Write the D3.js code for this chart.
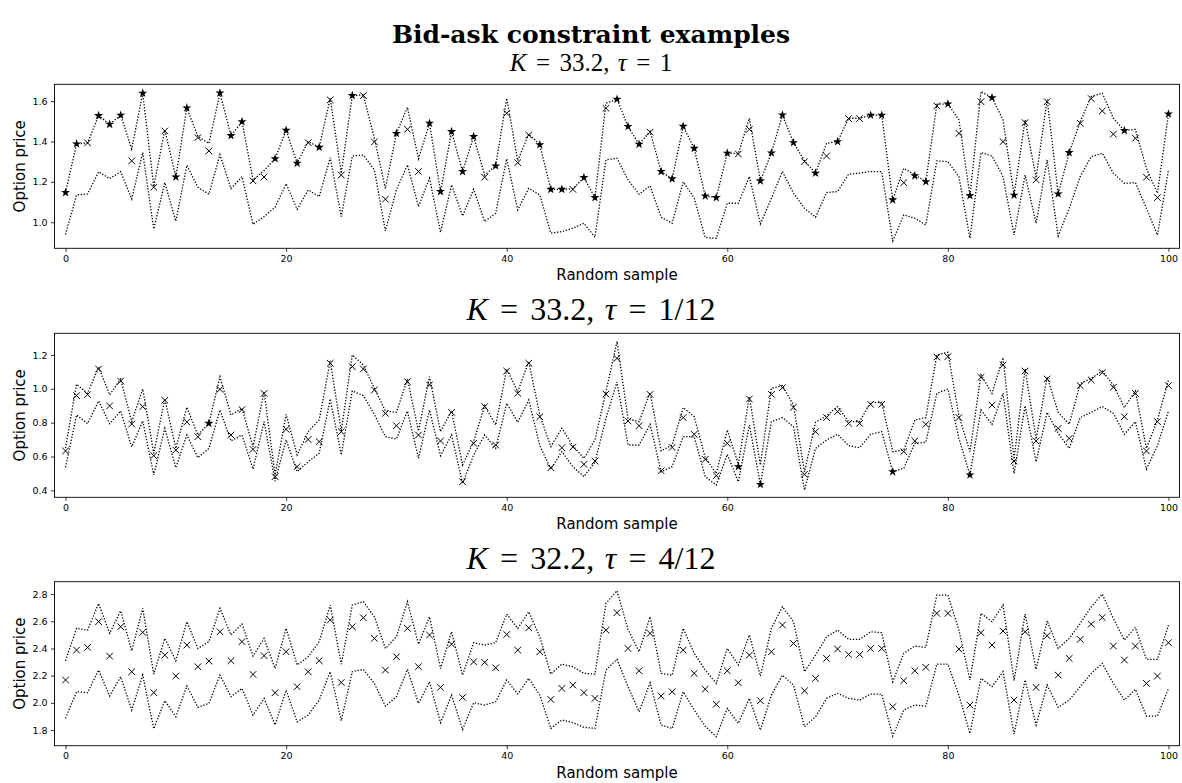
<!DOCTYPE html>
<html><head><meta charset="utf-8">
<script src="https://cdn.jsdelivr.net/npm/d3@7"></script>
<style>body{margin:0;background:#fff}</style>
</head><body><svg id="c" width="1182" height="783"></svg>
<script>
// ---------- data ----------
const samples = d3.range(0, 101);
const xTicks = [0, 20, 40, 60, 80, 100];
const chartTitle = "Bid-ask constraint examples";
const strikeLabels = ["33.2", "33.2", "32.2"];
const tauLabels = ["1", "1/12", "4/12"];
const xLabel = "Random sample";
const yLabel = "Option price";

const ask1 = [1.147,1.388,1.393,1.528,1.485,1.530,1.363,1.639,1.177,1.457,1.224,1.566,1.425,1.390,1.640,1.429,1.498,1.210,1.256,1.315,1.455,1.292,1.400,1.371,1.614,1.243,1.627,1.630,1.416,1.168,1.440,1.569,1.314,1.490,1.152,1.449,1.251,1.424,1.234,1.279,1.614,1.305,1.437,1.384,1.163,1.163,1.165,1.221,1.122,1.589,1.609,1.474,1.386,1.450,1.251,1.215,1.475,1.366,1.130,1.122,1.342,1.340,1.515,1.205,1.343,1.531,1.394,1.304,1.243,1.391,1.399,1.515,1.515,1.530,1.530,1.111,1.267,1.235,1.201,1.584,1.586,1.507,1.132,1.647,1.617,1.507,1.134,1.507,1.220,1.609,1.140,1.345,1.498,1.622,1.639,1.515,1.454,1.460,1.267,1.144,1.536];
const bid1 = [0.940,1.135,1.140,1.250,1.216,1.250,1.115,1.345,0.967,1.196,1.005,1.282,1.173,1.139,1.335,1.167,1.226,0.990,1.028,1.074,1.191,1.064,1.160,1.127,1.320,1.028,1.328,1.333,1.259,0.957,1.160,1.284,1.078,1.218,0.950,1.185,1.031,1.163,1.003,1.045,1.314,1.061,1.168,1.135,0.946,0.954,0.970,0.995,0.926,1.309,1.317,1.210,1.139,1.180,1.025,0.995,1.200,1.119,0.924,0.921,1.094,1.094,1.226,0.992,1.119,1.251,1.144,1.069,1.025,1.147,1.152,1.238,1.243,1.251,1.251,0.908,1.036,1.020,0.987,1.304,1.300,1.226,0.921,1.345,1.328,1.226,0.937,1.234,0.995,1.309,0.932,1.069,1.226,1.325,1.342,1.243,1.193,1.196,1.069,0.937,1.259];
const pred1 = [1.147,1.388,1.393,1.528,1.485,1.530,1.304,1.639,1.173,1.452,1.224,1.566,1.419,1.353,1.640,1.429,1.498,1.205,1.224,1.315,1.455,1.292,1.394,1.371,1.606,1.234,1.627,1.627,1.398,1.114,1.440,1.460,1.251,1.490,1.152,1.449,1.251,1.424,1.223,1.279,1.540,1.295,1.432,1.384,1.163,1.163,1.163,1.221,1.122,1.564,1.609,1.474,1.386,1.446,1.251,1.215,1.475,1.366,1.130,1.122,1.342,1.338,1.460,1.205,1.343,1.531,1.394,1.300,1.243,1.328,1.399,1.513,1.513,1.530,1.530,1.111,1.196,1.230,1.201,1.576,1.586,1.440,1.132,1.597,1.617,1.399,1.134,1.493,1.210,1.597,1.140,1.345,1.490,1.612,1.551,1.436,1.454,1.416,1.223,1.122,1.536];
const marks1 = "ssxsssxsxx" + "ssxxsssxxs" + "ssxsxxsxxx" + "sxxsssssxs" + "xxxsssxssx" + "sssxssssss" + "sxxssssxsx" + "sxxsssxssx" + "sxsxsxsxxx" + "ssxxxxsxxx" + "s";

const ask2 = [0.650,1.027,0.973,1.129,0.964,1.058,0.806,0.999,0.619,0.940,0.648,0.891,0.727,0.796,1.072,0.845,0.885,0.658,0.983,0.491,0.849,0.609,0.747,0.816,1.165,0.751,1.200,1.141,1.003,0.869,0.861,1.058,0.751,1.072,0.747,0.869,0.550,0.688,0.900,0.786,1.117,0.983,1.161,0.845,0.658,0.767,0.664,0.589,0.698,0.983,1.279,0.822,0.806,0.977,0.633,0.668,0.889,0.835,0.593,0.500,0.757,0.554,0.954,0.550,1.003,1.019,0.904,0.510,0.802,0.841,0.895,0.806,0.806,0.920,0.920,0.629,0.638,0.816,0.830,1.200,1.216,0.841,0.629,1.082,0.973,1.184,0.585,1.117,0.703,1.072,0.861,0.790,1.031,1.062,1.105,1.023,0.889,0.987,0.648,0.816,1.052];
const bid2 = [0.536,0.845,0.794,0.928,0.794,0.869,0.656,0.810,0.491,0.766,0.534,0.727,0.593,0.648,0.875,0.692,0.727,0.526,0.806,0.455,0.698,0.510,0.569,0.619,0.940,0.609,0.987,0.960,0.849,0.717,0.703,0.869,0.589,0.875,0.605,0.727,0.441,0.609,0.727,0.648,0.914,0.802,0.934,0.664,0.526,0.629,0.540,0.481,0.566,0.826,1.040,0.668,0.668,0.790,0.510,0.540,0.717,0.717,0.481,0.432,0.613,0.451,0.786,0.435,0.806,0.830,0.776,0.402,0.648,0.698,0.731,0.664,0.652,0.731,0.747,0.510,0.530,0.678,0.684,0.973,0.999,0.707,0.491,0.875,0.790,0.973,0.500,0.900,0.569,0.861,0.737,0.648,0.830,0.861,0.895,0.855,0.731,0.806,0.526,0.664,0.869];
const pred2 = [0.633,0.960,0.966,1.117,0.899,1.046,0.792,0.895,0.605,0.932,0.638,0.804,0.717,0.796,0.997,0.727,0.877,0.642,0.973,0.481,0.761,0.540,0.701,0.688,1.151,0.747,1.131,1.117,0.993,0.855,0.782,1.042,0.727,1.023,0.692,0.861,0.451,0.678,0.895,0.668,1.105,0.973,1.151,0.835,0.534,0.652,0.656,0.554,0.573,0.969,1.180,0.810,0.782,0.967,0.516,0.654,0.830,0.731,0.583,0.487,0.678,0.540,0.940,0.435,0.967,1.007,0.891,0.495,0.747,0.830,0.865,0.796,0.796,0.908,0.908,0.510,0.629,0.692,0.790,1.188,1.190,0.830,0.491,1.068,0.904,1.141,0.573,1.105,0.692,1.058,0.766,0.707,1.019,1.052,1.096,1.009,0.835,0.973,0.633,0.806,1.019];
const marks2 = "xxxxxxxxxx" + "xxxsxxxxxx" + "xxxxxxxxxx" + "xxxxxxxxxx" + "xxxxxxxxxx" + "xxxxxxxxxx" + "xsxsxxxxxx" + "xxxxxsxxxx" + "xxsxxxxxxx" + "xxxxxxxxxx" + "x";

const ask3 = [2.310,2.548,2.535,2.731,2.511,2.677,2.383,2.695,2.212,2.474,2.310,2.597,2.400,2.450,2.695,2.499,2.579,2.344,2.474,2.253,2.548,2.278,2.339,2.450,2.719,2.285,2.719,2.744,2.633,2.400,2.486,2.744,2.432,2.633,2.253,2.523,2.204,2.442,2.425,2.442,2.653,2.548,2.670,2.486,2.212,2.285,2.266,2.217,2.212,2.731,2.825,2.540,2.376,2.633,2.217,2.204,2.548,2.364,2.241,2.143,2.400,2.278,2.499,2.197,2.548,2.707,2.597,2.229,2.351,2.486,2.535,2.467,2.467,2.523,2.516,2.155,2.364,2.418,2.408,2.793,2.793,2.535,2.168,2.658,2.597,2.719,2.163,2.653,2.246,2.604,2.400,2.474,2.584,2.707,2.800,2.621,2.462,2.555,2.320,2.320,2.572];
const bid3 = [1.886,2.082,2.075,2.241,2.050,2.192,1.947,2.204,1.810,2.016,1.898,2.124,1.967,1.996,2.204,2.045,2.106,1.910,2.033,1.837,2.094,1.861,1.910,2.021,2.229,1.869,2.229,2.246,2.143,1.976,2.045,2.246,1.996,2.155,1.854,2.057,1.805,2.001,1.984,2.008,2.168,2.065,2.180,2.057,1.812,1.874,1.854,1.820,1.812,2.241,2.320,2.120,1.935,2.148,1.837,1.812,2.082,1.947,1.829,1.751,1.959,1.849,2.033,1.800,2.057,2.204,2.131,1.825,1.898,2.033,2.070,2.033,2.021,2.065,2.065,1.756,1.947,1.984,1.976,2.285,2.285,2.057,1.775,2.180,2.119,2.229,1.771,2.168,1.837,2.131,1.967,2.021,2.119,2.217,2.290,2.143,2.021,2.099,1.903,1.903,2.106];
const pred3 = [2.168,2.388,2.408,2.597,2.344,2.560,2.229,2.518,2.075,2.351,2.197,2.425,2.266,2.307,2.523,2.310,2.450,2.209,2.347,2.075,2.376,2.119,2.229,2.310,2.609,2.150,2.560,2.626,2.474,2.241,2.339,2.548,2.266,2.499,2.114,2.432,2.040,2.302,2.298,2.258,2.503,2.388,2.552,2.376,2.025,2.106,2.131,2.075,2.033,2.535,2.663,2.400,2.236,2.511,2.050,2.082,2.388,2.217,2.101,1.989,2.236,2.148,2.351,2.016,2.376,2.572,2.437,2.089,2.180,2.327,2.396,2.356,2.356,2.400,2.400,1.972,2.163,2.236,2.261,2.658,2.658,2.396,1.984,2.516,2.425,2.528,2.021,2.523,2.114,2.494,2.204,2.327,2.467,2.579,2.628,2.418,2.315,2.418,2.143,2.197,2.442];
const marks3 = "x".repeat(101);

const yLimits1 = [0.871, 1.683], yTicks1 = [1.0, 1.2, 1.4, 1.6];
const yLimits2 = [0.359, 1.328], yTicks2 = [0.4, 0.6, 0.8, 1.0, 1.2];
const yLimits3 = [1.685, 2.891], yTicks3 = [1.8, 2.0, 2.2, 2.4, 2.6, 2.8];

const panels = [
  {ask: ask1, bid: bid1, pred: pred1, marks: marks1, lim: yLimits1, ticks: yTicks1, K: strikeLabels[0], tau: tauLabels[0], fs: 25},
  {ask: ask2, bid: bid2, pred: pred2, marks: marks2, lim: yLimits2, ticks: yTicks2, K: strikeLabels[1], tau: tauLabels[1], fs: 32},
  {ask: ask3, bid: bid3, pred: pred3, marks: marks3, lim: yLimits3, ticks: yTicks3, K: strikeLabels[2], tau: tauLabels[2], fs: 32}
];

// ---------- layout ----------
const svg = d3.select("#c");
const left = 54.5, right = 1179.5, ph = 164;
const tops = [84.3, 333.3, 581.7];
const sans = "DejaVu Sans";
const serif = "Liberation Serif";

svg.append("text").attr("x", 591).attr("y", 43)
  .attr("text-anchor", "middle").attr("font-family", "DejaVu Serif")
  .attr("font-weight", "bold").attr("font-size", 25).text(chartTitle);

const x = d3.scaleLinear().domain([-1, 101]).range([left, right]);

panels.forEach((p, k) => {
  const top = tops[k];
  const y = d3.scaleLinear().domain(p.lim).range([top + ph, top]);
  const g = svg.append("g");

  // subtitle (math, with TeX-like spacing)
  const st = g.append("text").attr("x", 591).attr("y", top - 13)
    .attr("text-anchor", "middle").attr("font-family", serif).attr("font-size", p.fs);
  st.append("tspan").attr("font-style", "italic").text("K");
  st.append("tspan").attr("dx", "0.38em").text("=");
  st.append("tspan").attr("dx", "0.38em").text(p.K + ",");
  st.append("tspan").attr("dx", "0.33em").attr("font-style", "italic").text("τ");
  st.append("tspan").attr("dx", "0.38em").text("=");
  st.append("tspan").attr("dx", "0.38em").text(p.tau);

  // axes
  const xa = g.append("g").attr("transform", `translate(0,${top + ph})`)
    .call(d3.axisBottom(x).tickValues(xTicks).tickSize(3.5).tickPadding(3.5).tickFormat(d3.format("d")));
  const ya = g.append("g").attr("transform", `translate(${left},0)`)
    .call(d3.axisLeft(y).tickValues(p.ticks).tickSize(3.5).tickPadding(3.5).tickFormat(d3.format(".1f")));
  [xa, ya].forEach(a => {
    a.select(".domain").remove();
    a.selectAll("text").attr("font-family", sans).attr("font-size", 9.5).attr("fill", "#000");
    a.selectAll("line").attr("stroke", "#000").attr("stroke-width", 0.8);
  });

  // frame
  g.append("rect").attr("x", left).attr("y", top).attr("width", right - left).attr("height", ph)
    .attr("fill", "none").attr("stroke", "#000").attr("stroke-width", 0.9);

  // lines
  const line = d3.line().x((d, i) => x(samples[i])).y(d => y(d));
  [p.ask, p.bid].forEach(arr => {
    g.append("path").attr("d", line(arr)).attr("fill", "none")
      .attr("stroke", "#000").attr("stroke-width", 1.3).attr("stroke-dasharray", "1.3,1.7");
  });

  // markers
  const star = d3.symbol().type(d3.symbolStar).size(26)();
  p.pred.forEach((v, i) => {
    const cx = x(samples[i]), cy = y(v);
    if (p.marks[i] === "s") {
      g.append("path").attr("d", star).attr("transform", `translate(${cx},${cy})`).attr("fill", "#000");
    } else {
      const s = 3.3;
      g.append("path").attr("d", `M${cx - s},${cy - s}L${cx + s},${cy + s}M${cx - s},${cy + s}L${cx + s},${cy - s}`)
        .attr("stroke", "#000").attr("stroke-width", 1).attr("fill", "none");
    }
  });

  // labels
  g.append("text").attr("x", (left + right) / 2).attr("y", top + ph + 32)
    .attr("text-anchor", "middle").attr("font-family", sans).attr("font-size", 15).text(xLabel);
  g.append("text").attr("transform", `translate(24.5,${top + ph / 2}) rotate(-90)`)
    .attr("text-anchor", "middle").attr("font-family", sans).attr("font-size", 15).text(yLabel);
});
</script></body></html>
